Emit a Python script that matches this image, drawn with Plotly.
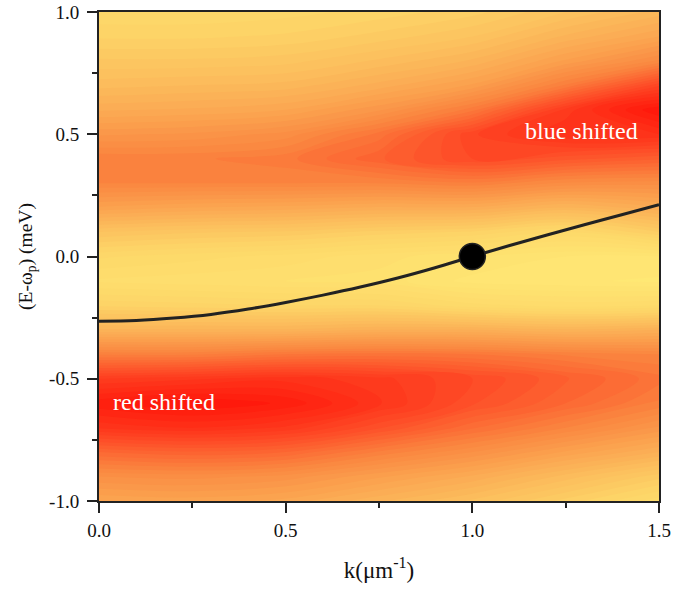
import plotly.graph_objects as go

# Wave-vector grid (µm^-1) and energy detuning grid (meV)
k_grid = [0.0, 0.25, 0.5, 0.75, 1.0, 1.25, 1.5]
e_grid = [-1.0, -0.9, -0.8, -0.7, -0.6, -0.5, -0.4, -0.3, -0.2, -0.1, 0.0,
          0.1, 0.2, 0.3, 0.4, 0.5, 0.6, 0.7, 0.8, 0.9, 1.0]

# Normalised emission intensity, one list per k value (bottom to top in energy)
intensity_k000 = [0.45, 0.55, 0.70, 0.88, 0.97, 0.85, 0.62, 0.38, 0.22, 0.12, 0.18,
                  0.30, 0.47, 0.60, 0.62, 0.52, 0.42, 0.34, 0.28, 0.22, 0.18]
intensity_k025 = [0.46, 0.56, 0.72, 0.90, 1.00, 0.87, 0.62, 0.38, 0.21, 0.11, 0.16,
                  0.28, 0.45, 0.60, 0.62, 0.53, 0.43, 0.35, 0.28, 0.22, 0.18]
intensity_k050 = [0.44, 0.54, 0.70, 0.87, 0.97, 0.89, 0.65, 0.38, 0.20, 0.10, 0.14,
                  0.27, 0.44, 0.60, 0.64, 0.56, 0.45, 0.36, 0.29, 0.23, 0.19]
intensity_k075 = [0.38, 0.48, 0.62, 0.78, 0.88, 0.86, 0.66, 0.40, 0.20, 0.09, 0.11,
                  0.24, 0.42, 0.60, 0.72, 0.66, 0.52, 0.41, 0.33, 0.26, 0.21]
intensity_k100 = [0.32, 0.42, 0.55, 0.68, 0.78, 0.80, 0.65, 0.40, 0.16, 0.04, 0.08,
                  0.22, 0.42, 0.62, 0.80, 0.82, 0.64, 0.48, 0.38, 0.30, 0.24]
intensity_k125 = [0.24, 0.34, 0.47, 0.60, 0.70, 0.73, 0.62, 0.38, 0.14, 0.03, 0.05,
                  0.17, 0.37, 0.57, 0.76, 0.90, 0.86, 0.63, 0.48, 0.38, 0.30]
intensity_k150 = [0.16, 0.26, 0.40, 0.52, 0.62, 0.66, 0.60, 0.40, 0.15, 0.02, 0.05,
                  0.25, 0.42, 0.56, 0.73, 0.90, 1.00, 0.82, 0.58, 0.45, 0.36]

columns = [intensity_k000, intensity_k025, intensity_k050, intensity_k075,
           intensity_k100, intensity_k125, intensity_k150]
z = [[col[i] for col in columns] for i in range(len(e_grid))]

# Lower-polariton dispersion
k_disp = [0.0, 0.1, 0.2, 0.3, 0.4, 0.5, 0.6, 0.7, 0.8, 0.9, 1.0,
          1.1, 1.2, 1.3, 1.4, 1.5]
e_disp = [-0.265, -0.262, -0.252, -0.237, -0.215, -0.188, -0.158, -0.125,
          -0.088, -0.046, 0.0, 0.045, 0.088, 0.130, 0.171, 0.212]

# Pump point
k_pump = [1.0]
e_pump = [0.0]

x_tick_vals = [0.0, 0.5, 1.0, 1.5]
x_tick_text = ["0.0", "0.5", "1.0", "1.5"]
y_tick_vals = [-1.0, -0.5, 0.0, 0.5, 1.0]
y_tick_text = ["-1.0", "-0.5", "0.0", "0.5", "1.0"]

colorscale = [
    [0.00, "rgb(255,233,117)"],
    [0.20, "rgb(253,214,104)"],
    [0.40, "rgb(251,176,86)"],
    [0.60, "rgb(250,134,64)"],
    [0.80, "rgb(254,74,38)"],
    [1.00, "rgb(255,22,10)"],
]

fig = go.Figure()
fig.add_trace(go.Contour(
    x=k_grid, y=e_grid, z=z,
    colorscale=colorscale, zmin=0, zmax=1,
    contours=dict(start=0, end=1, size=0.025, coloring="fill", showlines=False),
    line=dict(width=0),
    showscale=False, hoverinfo="skip",
))
fig.add_trace(go.Scatter(
    x=k_disp, y=e_disp, mode="lines",
    line=dict(color="#222222", width=3, shape="spline"),
    showlegend=False,
))
fig.add_trace(go.Scatter(
    x=k_pump, y=e_pump, mode="markers",
    marker=dict(color="black", size=26, line=dict(color="#222222", width=1.5)),
    showlegend=False,
))

font_family = "Liberation Serif"
tick_font = dict(family=font_family, size=19, color="#111111")

fig.add_annotation(x=1.292, y=0.513, text="blue shifted", showarrow=False,
                   font=dict(family=font_family, size=24, color="white"))
fig.add_annotation(x=0.175, y=-0.595, text="red shifted", showarrow=False,
                   font=dict(family=font_family, size=24, color="white"))

fig.update_layout(
    width=698, height=589,
    margin=dict(l=99, r=39, t=12, b=88),
    paper_bgcolor="white", plot_bgcolor="white",
    showlegend=False,
    font=dict(family=font_family, size=19, color="#111111"),
    xaxis=dict(
        range=[0, 1.5], tickmode="array", tickvals=x_tick_vals, ticktext=x_tick_text,
        ticks="outside", ticklen=10, tickwidth=2, tickcolor="#222222",
        ticklabelstandoff=1,
        minor=dict(ticks="outside", ticklen=5, tickwidth=1.5, tickcolor="#222222",
                   tickvals=[0.25, 0.75, 1.25]),
        showline=True, linecolor="#222222", linewidth=2, mirror=True,
        showgrid=False, zeroline=False, automargin=False,
        tickfont=tick_font,
        title=dict(text="k(μm<sup>-1</sup>)", standoff=22,
                   font=dict(family=font_family, size=23, color="#111111")),
    ),
    yaxis=dict(
        range=[-1, 1], tickmode="array", tickvals=y_tick_vals, ticktext=y_tick_text,
        ticks="outside", ticklen=10, tickwidth=2, tickcolor="#222222",
        ticklabelstandoff=4,
        minor=dict(ticks="outside", ticklen=5, tickwidth=1.5, tickcolor="#222222",
                   tickvals=[-0.75, -0.25, 0.25, 0.75]),
        showline=True, linecolor="#222222", linewidth=2, mirror=True,
        showgrid=False, zeroline=False, automargin=False,
        tickfont=tick_font,
        title=dict(text="(E-ω<sub>p</sub>) (meV)", standoff=11,
                   font=dict(family=font_family, size=19.5, color="#111111")),
    ),
)

fig.write_html("out.html")
